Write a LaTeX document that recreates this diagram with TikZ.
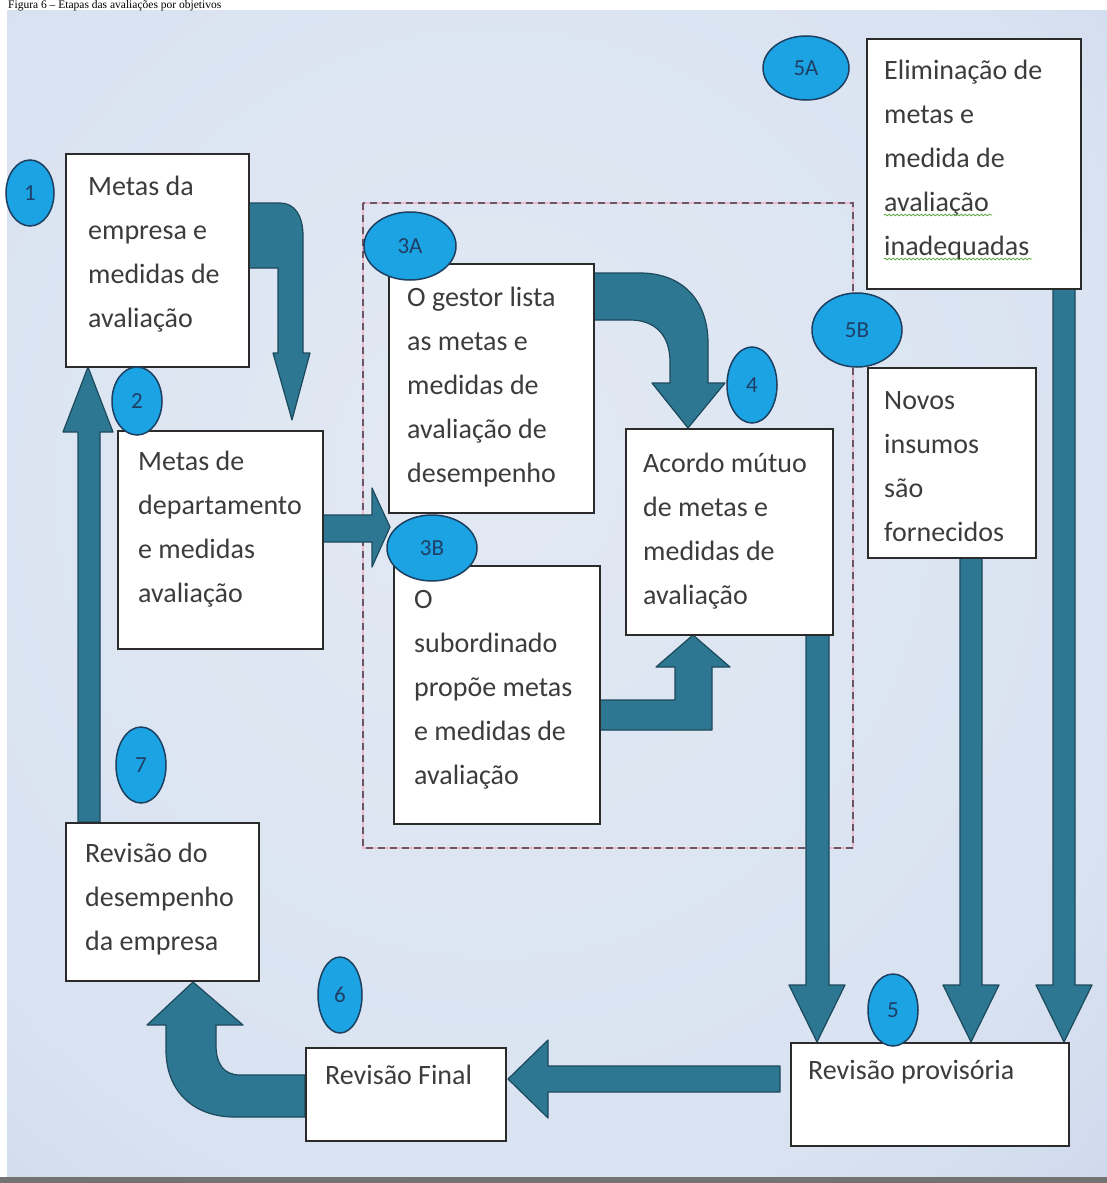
\documentclass[tikz,border=0pt]{standalone}
\usepackage{fontspec}
\setmainfont{Carlito}
\newfontfamily\capfont{Liberation Serif}
\usetikzlibrary{shapes.geometric,decorations.pathmorphing}
\definecolor{arrowfill}{HTML}{2E7793}
\definecolor{arrowline}{HTML}{1C4A5C}
\definecolor{circfill}{HTML}{1BA3E3}
\definecolor{circline}{HTML}{1D3F60}
\definecolor{circtext}{HTML}{1F3F66}
\definecolor{boxline}{HTML}{2B2B2B}
\definecolor{txt}{HTML}{3C3C3C}
\definecolor{bgin}{HTML}{E2E9F4}
\definecolor{bgout}{HTML}{A6BCDE}
\definecolor{dashc}{HTML}{6E5564}
\definecolor{pinkc}{HTML}{EBB9CA}
\definecolor{squig}{HTML}{5CA83C}
\pgfdeclareradialshading{bgshade}{\pgfpoint{-4bp}{6bp}}{color(0bp)=(bgin); color(30bp)=(bgin!85!bgout); color(72bp)=(bgout)}
\begin{document}
\begin{tikzpicture}[x=1pt,y=-1pt,
  stepbox/.style={draw=boxline, line width=1.6pt, fill=white, inner sep=0, anchor=north west},
  boxtext/.style={anchor=north west, inner sep=0, align=left, text=txt, font=\fontsize{28}{44}\selectfont},
  badge/.style={ellipse, draw=circline, line width=1.5pt, fill=circfill, inner sep=0, text=circtext, font=\fontsize{23}{24}\selectfont},
  arr/.style={fill=arrowfill, draw=arrowline, line width=1.2pt, line join=round}]
\useasboundingbox (0,0) rectangle (1107,1183);
\clip (0,0) rectangle (1107,1183);
% background
\fill[white] (0,0) rectangle (1107,1183);
\shade[shading=bgshade] (7,10) rectangle (1107,1177);
\fill[black!55] (0,1177) rectangle (1107,1183);
% caption
\node[anchor=base west, inner sep=0, font=\capfont\fontsize{11.5}{13}\selectfont] (cap) at (8,8.5) {Figura 6 – Etapas das avaliações por objetivos};
% dashed group
\draw[pinkc, line width=1.4pt] (363,203) rectangle (853,848);
\draw[dashc, line width=1.2pt, dash pattern=on 7pt off 5pt] (363,203) rectangle (853,848);
% block arrows
\filldraw[arr] (248,203) -- (280,203) .. controls (295,203) and (303,216) .. (303,236) -- (303,353) -- (310,353) -- (292,420) -- (273,353) -- (278,353) -- (278,268) -- (248,268) -- cycle;
\filldraw[arr] (78,822) -- (78,432) -- (63,432) -- (88,367) -- (113,432) -- (100,432) -- (100,822) -- cycle;
\filldraw[arr] (322,515) -- (372,515) -- (372,488) -- (390,527) -- (372,567) -- (372,542) -- (322,542) -- cycle;
\filldraw[arr] (593,273) -- (640,273) .. controls (682,273) and (708,300) .. (708,343) -- (708,383) -- (725,383) -- (688,428) -- (652,383) -- (670,383) -- (670,362) .. controls (670,335) and (655,320) .. (630,320) -- (593,320) -- cycle;
\filldraw[arr] (599,700) -- (675,700) -- (675,667) -- (656,667) -- (693,635) -- (730,667) -- (712,667) -- (712,730) -- (599,730) -- cycle;
\filldraw[arr] (806,634) -- (806,985) -- (789,985) -- (817,1042) -- (845,985) -- (829,985) -- (829,634) -- cycle;
\filldraw[arr] (960,557) -- (960,985) -- (943,985) -- (971,1042) -- (999,985) -- (982,985) -- (982,557) -- cycle;
\filldraw[arr] (1053,288) -- (1053,985) -- (1036,985) -- (1064,1042) -- (1092,985) -- (1075,985) -- (1075,288) -- cycle;
\filldraw[arr] (780,1066) -- (548,1066) -- (548,1040) -- (508,1079) -- (548,1118) -- (548,1092) -- (780,1092) -- cycle;
\filldraw[arr] (305,1117) -- (235,1117) .. controls (192,1117) and (166,1090) .. (166,1050) -- (166,1025) -- (147,1025) -- (193,982) -- (243,1025) -- (216,1025) -- (216,1045) .. controls (216,1064) and (224,1075) .. (240,1075) -- (305,1075) -- cycle;
% boxes
\node[stepbox, minimum width=183, minimum height=213] (b1) at (65,153) {};
\node[stepbox, minimum width=205, minimum height=218] (b2) at (117,430) {};
\node[stepbox, minimum width=205, minimum height=249] (b3a) at (388,263) {};
\node[stepbox, minimum width=206, minimum height=258] (b3b) at (393,565) {};
\node[stepbox, minimum width=207, minimum height=206] (b4) at (625,428) {};
\node[stepbox, minimum width=214, minimum height=250] (b5a) at (866,38) {};
\node[stepbox, minimum width=168, minimum height=190] (b5b) at (867,367) {};
\node[stepbox, minimum width=193, minimum height=158] (b7) at (65,822) {};
\node[stepbox, minimum width=200, minimum height=93] (b6) at (305,1047) {};
\node[stepbox, minimum width=278, minimum height=103] (b5) at (790,1042) {};
% box texts
\node[boxtext] (t1) at (88,164.2) {\strut Metas da\\empresa e\\medidas de\\avaliação};
\node[boxtext] (t2) at (138,439.2) {\strut Metas de\\departamento\\e medidas\\avaliação};
\node[boxtext] (t3a) at (407,275.2) {\strut O gestor lista\\as metas e\\medidas de\\avaliação de\\desempenho};
\node[boxtext] (t3b) at (414,577.2) {\strut O\\subordinado\\propõe metas\\e medidas de\\avaliação};
\node[boxtext] (t4) at (643,441.2) {\strut Acordo mútuo\\de metas e\\medidas de\\avaliação};
\node[boxtext] (t5a) at (884,48.2) {\strut Eliminação de\\metas e\\medida de\\avaliação\\inadequadas};
\node[boxtext] (t5b) at (884,378.2) {\strut Novos\\insumos\\são\\fornecidos};
\node[boxtext] (t7) at (85,831.2) {\strut Revisão do\\desempenho\\da empresa};
\node[boxtext] (t6) at (325,1053.2) {\strut Revisão Final};
\node[boxtext] (t5) at (808,1048.2) {\strut Revisão provisória};
% grammar squiggles
\draw[squig, line width=0.8pt, decorate, decoration={snake, amplitude=0.8pt, segment length=4pt}] (884,215) -- (992,215);
\draw[squig, line width=0.8pt, decorate, decoration={snake, amplitude=0.8pt, segment length=4pt}] (884,259) -- (1032,259);
% badges
\node[badge, minimum width=48, minimum height=66] (c1) at (30,193) {1};
\node[badge, minimum width=50, minimum height=68] (c2) at (137,401) {2};
\node[badge, minimum width=92, minimum height=68] (c3a) at (410,246) {3A};
\node[badge, minimum width=90, minimum height=66] (c3b) at (432,548) {3B};
\node[badge, minimum width=50, minimum height=76] (c4) at (752,385) {4};
\node[badge, minimum width=86, minimum height=64] (c5a) at (806,68) {5A};
\node[badge, minimum width=90, minimum height=74] (c5b) at (857,330) {5B};
\node[badge, minimum width=50, minimum height=72] (c5) at (893,1010) {5};
\node[badge, minimum width=44, minimum height=76] (c6) at (340,995) {6};
\node[badge, minimum width=50, minimum height=76] (c7) at (141,765) {7};
\end{tikzpicture}
\end{document}
